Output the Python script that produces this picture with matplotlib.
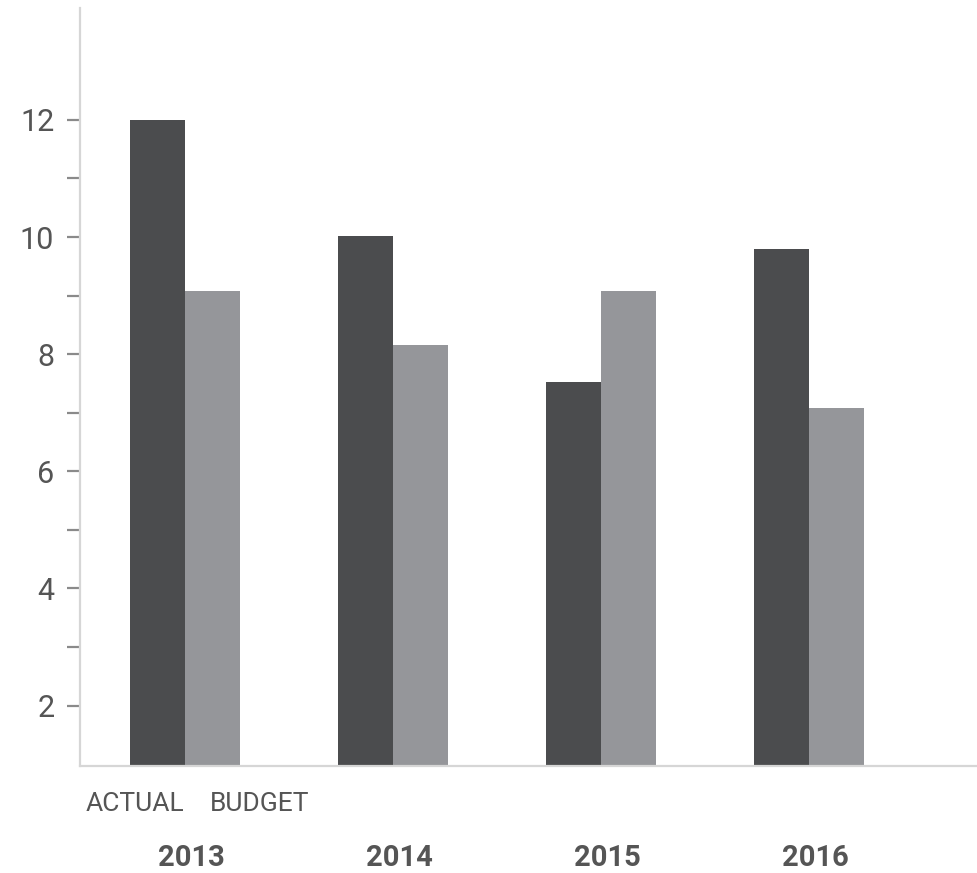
import matplotlib.pyplot as plt
import matplotlib.transforms as transforms
import numpy as np

plt.rcParams['font.family'] = ['Roboto', 'DejaVu Sans']

# Actual vs. budget per year
years = ['2013', '2014', '2015', '2016']
actual = [12.0, 10.02, 7.53, 9.8]
budget = [9.08, 8.16, 9.08, 7.09]

dark = '#4b4c4e'
light = '#95969a'
text_color = '#555555'

fig = plt.figure(figsize=(9.78, 8.73), dpi=100)
ax = fig.add_axes([0.0818, 0.1226, 0.9172, 0.8682])

x = np.arange(len(years))
width = 0.264
ax.bar(x - width / 2, actual, width, color=dark, bottom=0)
ax.bar(x + width / 2, budget, width, color=light, bottom=0)

ax.set_xlim(-0.505, 3.808)
ax.set_ylim(0.97, 13.91)

# Axis styling: light spines, grey dashes for ticks
for side in ['top', 'right']:
    ax.spines[side].set_visible(False)
for side in ['left', 'bottom']:
    ax.spines[side].set_color('#d6d6d6')
    ax.spines[side].set_linewidth(1.6)

ax.set_xticks([])
ax.set_yticks([2, 4, 6, 8, 10, 12])
ax.set_yticks([3, 5, 7, 9, 11], minor=True)
ax.tick_params(axis='y', which='both', length=9.5, width=1.6, color='#8a8a8a',
               labelsize=22, labelcolor=text_color, pad=9)

# Series names under the first group, year names under every group
trans = transforms.blended_transform_factory(ax.transData, ax.transAxes)
ax.text(-0.005, -0.05, 'ACTUAL', transform=trans, ha='right', va='center',
        fontsize=19, color=text_color)
ax.text(0.12, -0.05, 'BUDGET', transform=trans, ha='left', va='center',
        fontsize=19, color=text_color)
for i, year in enumerate(years):
    ax.text(x[i] + 0.029, -0.122, year, transform=trans, ha='center', va='center',
            fontsize=21, fontweight='bold', color=text_color)

plt.savefig('out.png', dpi=100)
